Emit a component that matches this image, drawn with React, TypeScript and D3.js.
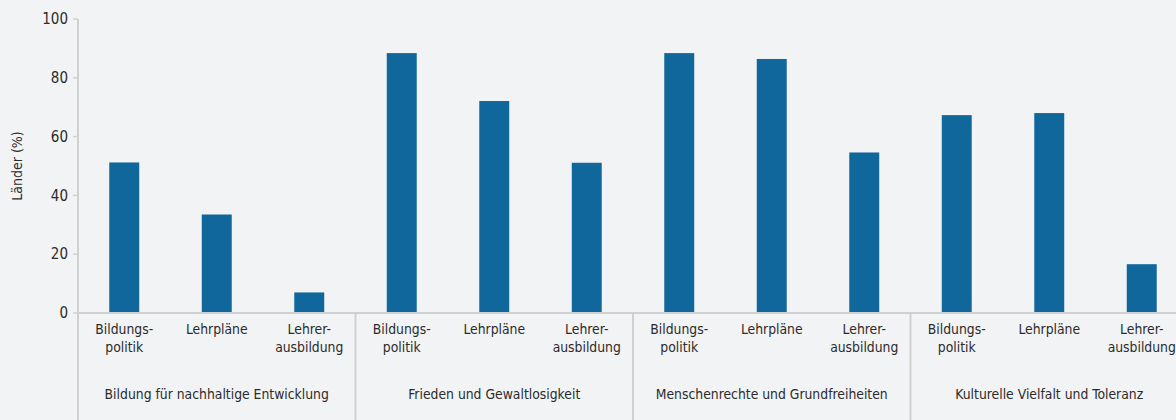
import React from "react";
import * as d3 from "d3";

const groups = [
  "Bildung für nachhaltige Entwicklung",
  "Frieden und Gewaltlosigkeit",
  "Menschenrechte und Grundfreiheiten",
  "Kulturelle Vielfalt und Toleranz",
];
const subcategories = ["Bildungspolitik", "Lehrpläne", "Lehrerausbildung"];
const subLabels: string[][] = [["Bildungs-", "politik"], ["Lehrpläne"], ["Lehrer-", "ausbildung"]];
const bildungspolitik = [51.2, 88.4, 88.4, 67.3];
const lehrplaene = [33.5, 72.1, 86.4, 68.0];
const lehrerausbildung = [7.0, 51.1, 54.6, 16.6];
const yTicks = [0, 20, 40, 60, 80, 100];
const yTitle = "Länder (%)";

const W = 1176;
const H = 420;
const left = 78;
const groupW = 277.5;
const top = 19;
const bottom = 313;
const FONT = "'DejaVu Sans Condensed', 'Liberation Sans Narrow', 'Roboto', sans-serif";
const BAR = "#10679b";
const AXIS = "#cfd0d2";
const TEXT = "#2b2b2b";

export default function App() {
  const x0 = d3.scaleBand<string>().domain(groups).range([left, left + groupW * groups.length]).padding(0);
  const x1 = d3
    .scaleBand<string>()
    .domain(subcategories)
    .range([0, x0.bandwidth()])
    .paddingInner(0.676)
    .paddingOuter(0.338);
  const y = d3.scaleLinear().domain([0, 100]).range([bottom, top]);
  const series = [bildungspolitik, lehrplaene, lehrerausbildung];

  return (
    <div style={{ position: "fixed", left: 0, top: 0, width: W, height: H, background: "#f2f3f5" }}>
      <svg width={W} height={H} style={{ display: "block", fontFamily: FONT }}>
        <rect width={W} height={H} fill="#f2f3f5" />
        {groups.map((g, gi) =>
          subcategories.map((s, si) => {
            const v = series[si][gi];
            return (
              <rect
                key={g + s}
                x={x0(g)! + x1(s)!}
                y={y(v)}
                width={x1.bandwidth()}
                height={y(0) - y(v)}
                fill={BAR}
              />
            );
          })
        )}
        <line x1={left} x2={left} y1={top} y2={H} stroke={AXIS} strokeWidth={2} />
        {yTicks.map((t) => (
          <g key={t}>
            <line x1={left - 5} x2={left} y1={y(t)} y2={y(t)} stroke={AXIS} strokeWidth={1.5} />
            <text x={left - 10} y={y(t)} dy="0.35em" textAnchor="end" fontSize={15} fill={TEXT}>
              {t}
            </text>
          </g>
        ))}
        <text
          transform={`translate(22,${(top + bottom) / 2}) rotate(-90)`}
          textAnchor="middle"
          fontSize={14}
          fill={TEXT}
        >
          {yTitle}
        </text>
        <line x1={left} x2={W} y1={bottom} y2={bottom} stroke={AXIS} strokeWidth={2} />
        {groups.map((g, gi) => (
          <g key={g}>
            {gi > 0 && (
              <line x1={x0(g)!} x2={x0(g)!} y1={bottom} y2={H} stroke={AXIS} strokeWidth={2} />
            )}
            {subcategories.map((s, si) => {
              const cx = x0(g)! + x1(s)! + x1.bandwidth() / 2;
              return (
                <text key={s} x={cx} y={bottom + 21} textAnchor="middle" fontSize={13.8} fill={TEXT}>
                  {subLabels[si].map((l, li) => (
                    <tspan key={li} x={cx} dy={li === 0 ? 0 : 18}>
                      {l}
                    </tspan>
                  ))}
                </text>
              );
            })}
            <text
              x={x0(g)! + x0.bandwidth() / 2}
              y={bottom + 86}
              textAnchor="middle"
              fontSize={13.8}
              fill={TEXT}
            >
              {g}
            </text>
          </g>
        ))}
      </svg>
    </div>
  );
}
